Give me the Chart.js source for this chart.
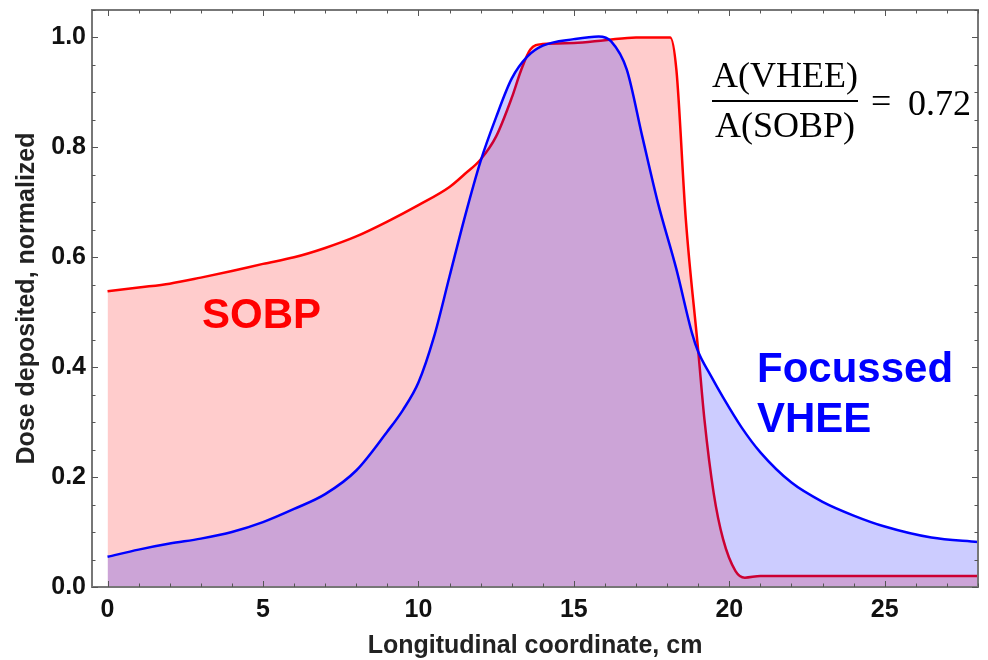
<!DOCTYPE html>
<html>
<head>
<meta charset="utf-8">
<script src="https://cdn.jsdelivr.net/npm/chart.js@4.4.1/dist/chart.umd.min.js"></script>
<style>
  html, body { margin: 0; padding: 0; background: #fff; }
  #wrap { width: 988px; height: 660px; }
</style>
</head>
<body>
<div id="wrap"><canvas id="doseChart" width="988" height="660"></canvas></div>
<script>
// SOBP (proton spread-out Bragg peak)
const sobpX = [0, 1, 2, 3, 4, 5, 6, 7, 8, 9, 10, 11, 11.5, 12, 12.5, 13, 13.3, 13.6, 14, 15, 16, 17, 18.1, 18.3, 18.6, 19.0, 19.2, 19.5, 19.8, 20.2, 20.5, 21, 22, 24, 26, 28];
const sobpY = [0.538, 0.545, 0.552, 0.563, 0.575, 0.588, 0.600, 0.617, 0.638, 0.665, 0.695, 0.728, 0.752, 0.778, 0.82, 0.89, 0.94, 0.978, 0.988, 0.990, 0.995, 1.0, 1.0, 0.94, 0.67, 0.43, 0.305, 0.17, 0.087, 0.029, 0.017, 0.02, 0.02, 0.02, 0.02, 0.02];

// focussed VHEE
const vheeX = [0, 1, 2, 3, 4, 5, 6, 7, 8, 9, 9.5, 10, 10.5, 11, 11.5, 12, 12.5, 13, 13.5, 14, 15, 15.8, 16.2, 16.7, 17.2, 17.7, 18.3, 18.8, 19.0, 19.4, 19.8, 20.4, 21, 22, 23, 24, 25, 26.5, 28];
const vheeY = [0.055, 0.068, 0.079, 0.088, 0.100, 0.118, 0.142, 0.169, 0.212, 0.283, 0.322, 0.372, 0.455, 0.565, 0.675, 0.775, 0.855, 0.925, 0.965, 0.985, 0.997, 1.002, 0.993, 0.942, 0.82, 0.70, 0.578, 0.462, 0.428, 0.385, 0.345, 0.29, 0.245, 0.19, 0.155, 0.13, 0.11, 0.09, 0.082];

const xTicks = [0, 5, 10, 15, 20, 25];
const yTicks = [0, 0.2, 0.4, 0.6, 0.8, 1.0];
const xMinorStep = 1;
const yMinorStep = 0.05;

const toPoints = (xs, ys) => xs.map((x, i) => ({ x: x, y: ys[i] }));

// frame, inward ticks and the text labels
const framePlugin = {
  id: "frame",
  afterDraw(chart) {
    const { ctx, chartArea: a, scales } = chart;
    const sx = scales.x, sy = scales.y;
    ctx.save();
    ctx.strokeStyle = "#777";
    ctx.lineWidth = 2;
    ctx.strokeRect(a.left, a.top, a.right - a.left, a.bottom - a.top);

    ctx.lineWidth = 1;
    ctx.strokeStyle = "#555";
    ctx.beginPath();
    for (let v = 0; v <= sx.max + 1e-6; v += xMinorStep) {
      const px = Math.round(sx.getPixelForValue(v)) + 0.5;
      const len = xTicks.includes(v) ? 6 : 3.5;
      ctx.moveTo(px, a.bottom); ctx.lineTo(px, a.bottom - len);
      ctx.moveTo(px, a.top); ctx.lineTo(px, a.top + len);
    }
    for (let k = 0; k * yMinorStep <= sy.max + 1e-6; k++) {
      const v = k * yMinorStep;
      const py = Math.round(sy.getPixelForValue(v)) + 0.5;
      const len = k % 4 === 0 ? 6 : 3.5;
      ctx.moveTo(a.left, py); ctx.lineTo(a.left + len, py);
      ctx.moveTo(a.right, py); ctx.lineTo(a.right - len, py);
    }
    ctx.stroke();

    // labels
    ctx.font = "bold 42px 'Liberation Sans', Arial, sans-serif";
    ctx.textBaseline = "alphabetic";
    ctx.textAlign = "left";
    ctx.fillStyle = "#ff0000";
    ctx.fillText("SOBP", 202, 328);
    ctx.fillStyle = "#0000ff";
    ctx.fillText("Focussed", 757, 382);
    ctx.fillText("VHEE", 757, 432);

    // ratio formula
    ctx.fillStyle = "#000";
    ctx.font = "36px 'Liberation Serif', 'Times New Roman', serif";
    ctx.textAlign = "center";
    ctx.fillText("A(VHEE)", 785, 87);
    ctx.fillText("A(SOBP)", 785, 137);
    ctx.fillRect(712, 100, 146, 2);
    ctx.textAlign = "left";
    ctx.fillText("=", 871, 113);
    ctx.fillText("0.72", 908, 115);
    ctx.restore();
  }
};

const tickFont = { family: "'Liberation Sans', Arial, sans-serif", size: 25, weight: "bold" };
const titleFont = { family: "'Liberation Sans', Arial, sans-serif", size: 25, weight: "bold", lineHeight: 1 };

new Chart(document.getElementById("doseChart"), {
  type: "line",
  data: {
    datasets: [
      {
        label: "Focussed VHEE",
        data: toPoints(vheeX, vheeY),
        borderColor: "#0000ff",
        backgroundColor: "rgba(0, 0, 255, 0.2)",
        borderWidth: 2.5,
        fill: "origin",
        pointRadius: 0,
        cubicInterpolationMode: "monotone",
      },
      {
        label: "SOBP",
        data: toPoints(sobpX, sobpY),
        borderColor: "#ff0000",
        backgroundColor: "rgba(255, 0, 0, 0.2)",
        borderWidth: 2.5,
        fill: "origin",
        pointRadius: 0,
        cubicInterpolationMode: "monotone",
      },
    ],
  },
  options: {
    responsive: false,
    animation: false,
    events: [],
    layout: { padding: { top: 10, right: 10, left: 0, bottom: 0 } },
    plugins: { legend: { display: false }, tooltip: { enabled: false } },
    scales: {
      x: {
        type: "linear",
        min: -0.5,
        max: 28,
        grid: { display: false, drawTicks: false },
        border: { display: false },
        afterBuildTicks: (s) => { s.ticks = xTicks.map((v) => ({ value: v })); },
        afterFit: (s) => { s.height = 73; s.paddingLeft = 0; s.paddingRight = 0; },
        ticks: { font: tickFont, color: "#111", padding: 8, maxRotation: 0, autoSkip: false },
        title: {
          display: true,
          text: "Longitudinal coordinate, cm",
          font: titleFont,
          color: "#222",
          padding: { top: 0, bottom: 1.5 },
        },
      },
      y: {
        type: "linear",
        min: 0,
        max: 1.05,
        grid: { display: false, drawTicks: false },
        border: { display: false },
        afterBuildTicks: (s) => { s.ticks = yTicks.map((v) => ({ value: v })); },
        afterFit: (s) => { s.width = 92; s.paddingTop = 0; s.paddingBottom = 0; },
        ticks: {
          font: tickFont,
          color: "#111",
          padding: 6,
          callback: (v) => Number(v).toFixed(1),
        },
        title: {
          display: true,
          text: "Dose deposited, normalized",
          font: titleFont,
          color: "#222",
          padding: { top: 15, bottom: 0 },
        },
      },
    },
  },
  plugins: [framePlugin],
});
</script>
</body>
</html>
